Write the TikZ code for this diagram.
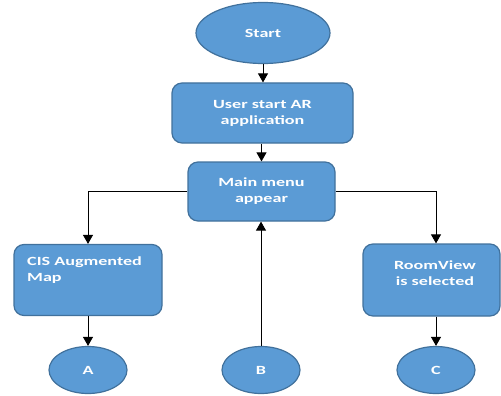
\documentclass[tikz,border=0pt]{standalone}
\usepackage{fontspec}
\setmainfont{Carlito}[FakeStretch=1.45]
\usetikzlibrary{shapes.geometric,arrows.meta,calc}
\definecolor{boxfill}{HTML}{5B9BD5}
\definecolor{boxline}{HTML}{41719C}
\begin{document}
\begin{tikzpicture}[x=1pt,y=-1pt,
  flowbox/.style={draw=boxline, line width=1.2pt, fill=boxfill, rounded corners=10pt,
    text=white, font=\fontsize{12.5}{16}\selectfont\bfseries, align=center, inner sep=0pt},
  terminal/.style={draw=boxline, line width=1.2pt, fill=boxfill, ellipse,
    text=white, font=\fontsize{12.5}{16}\selectfont\bfseries, inner sep=0pt},
  boxtext/.style={text=white, font=\fontsize{12.5}{16}\selectfont\bfseries, inner sep=0pt},
  flow/.style={line width=0.9pt, -{Triangle[length=9pt,width=10pt]}}]
  \useasboundingbox (0,0) rectangle (501,396);

  % main column
  \node[terminal, minimum width=134pt, minimum height=61pt] (start) at (263,33) {Start};
  \node[flowbox, minimum width=181pt, minimum height=60pt] (user) at (262.5,113) {User start AR\\application};
  \node[flowbox, minimum width=147pt, minimum height=59pt] (menu) at (261.5,191.5) {Main menu\\appear};

  % branches
  \node[flowbox, minimum width=148pt, minimum height=71pt] (cis) at (88,280) {};
  \node[boxtext, anchor=north west, align=left] (cistext) at (27,257) {CIS Augmented\\Map};
  \node[flowbox, minimum width=137pt, minimum height=72pt] (room) at (431.5,280) {};
  \node[boxtext, align=center] (roomtext) at (435,273.5) {RoomView\\is selected};

  % off-page connectors
  \node[terminal, minimum width=78pt, minimum height=47pt] (a) at (88,370) {A};
  \node[terminal, minimum width=78pt, minimum height=47pt] (b) at (261,370) {B};
  \node[terminal, minimum width=78pt, minimum height=47pt] (c) at (436,370) {C};

  % arrows
  \draw[flow] (start.south) -- (start.south |- user.north);
  \draw[flow] (user.south -| menu.north) -- (menu.north);
  \draw[flow] (menu.west) -| (cis.north);
  \coordinate (roomin) at ($(room.north)+(4.5,0)$);
  \draw[flow] (menu.east) -| (roomin);
  \draw[flow] (cis.south) -- (a.north);
  \draw[flow] (room.south -| c.north) -- (c.north);
  \draw[flow] (b.north) -- (b.north |- menu.south);
\end{tikzpicture}
\end{document}
